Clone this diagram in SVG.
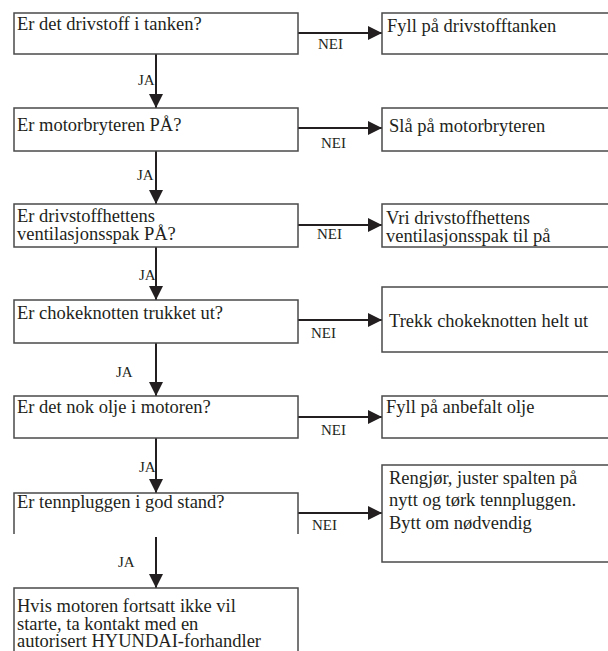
<svg xmlns="http://www.w3.org/2000/svg" width="608" height="651" viewBox="0 0 608 651">
<style>
.box{fill:#fff;stroke:#4a4a4a;stroke-width:1.5}
.t{font-family:"Liberation Serif","DejaVu Serif",serif;font-size:18.5px;fill:#231f20}
.lbl{font-family:"Liberation Serif","DejaVu Serif",serif;font-size:15px;fill:#231f20}
.ln{stroke:#231f20;stroke-width:2;fill:none}
</style>
<defs>
<marker id="ah" markerWidth="14" markerHeight="14" refX="14" refY="7" orient="auto" markerUnits="userSpaceOnUse">
<path d="M0,0 L14,7 L0,14 Z" fill="#231f20"/>
</marker>
</defs>
<rect width="608" height="651" fill="#fff"/>
<g id="connectors">
<line class="ln" x1="156" y1="54" x2="156" y2="108" marker-end="url(#ah)"/>
<line class="ln" x1="156" y1="151" x2="156" y2="204" marker-end="url(#ah)"/>
<line class="ln" x1="156" y1="247" x2="156" y2="300" marker-end="url(#ah)"/>
<line class="ln" x1="156" y1="343" x2="156" y2="396" marker-end="url(#ah)"/>
<line class="ln" x1="156" y1="438" x2="156" y2="493" marker-end="url(#ah)"/>
<line class="ln" x1="156" y1="537" x2="156" y2="588" marker-end="url(#ah)"/>
<line class="ln" x1="298" y1="33" x2="382" y2="33" marker-end="url(#ah)"/>
<line class="ln" x1="298" y1="128" x2="382" y2="128" marker-end="url(#ah)"/>
<line class="ln" x1="298" y1="225" x2="382" y2="225" marker-end="url(#ah)"/>
<line class="ln" x1="298" y1="320" x2="382" y2="320" marker-end="url(#ah)"/>
<line class="ln" x1="298" y1="417" x2="382" y2="417" marker-end="url(#ah)"/>
<line class="ln" x1="298" y1="513" x2="382" y2="513" marker-end="url(#ah)"/>
<text class="lbl" x="138" y="85">JA</text>
<text class="lbl" x="137" y="180">JA</text>
<text class="lbl" x="139" y="280">JA</text>
<text class="lbl" x="116" y="377">JA</text>
<text class="lbl" x="139" y="472">JA</text>
<text class="lbl" x="118" y="567">JA</text>
<text class="lbl" x="318" y="49">NEI</text>
<text class="lbl" x="321" y="148">NEI</text>
<text class="lbl" x="317" y="239">NEI</text>
<text class="lbl" x="311" y="338">NEI</text>
<text class="lbl" x="321" y="435">NEI</text>
<text class="lbl" x="312" y="530">NEI</text>
</g>
<g id="q1"><rect class="box" x="14" y="13" width="284" height="41"/><text class="t" x="17" y="30">Er det drivstoff i tanken?</text></g>
<g id="q2"><rect class="box" x="14" y="108" width="284" height="43"/><text class="t" x="17" y="131">Er motorbryteren PÅ?</text></g>
<g id="q3"><rect class="box" x="14" y="204" width="284" height="43"/><text class="t" x="17" y="222">Er drivstoffhettens</text><text class="t" x="17" y="240">ventilasjonsspak PÅ?</text></g>
<g id="q4"><rect class="box" x="14" y="300" width="284" height="43"/><text class="t" x="17" y="319">Er chokeknotten trukket ut?</text></g>
<g id="q5"><rect class="box" x="14" y="396" width="284" height="42"/><text class="t" x="17" y="413">Er det nok olje i motoren?</text></g>
<g id="q6"><path class="box" d="M14,534 L14,493 L298,493 L298,534"/><text class="t" x="17" y="508">Er tennpluggen i god stand?</text></g>
<g id="end"><rect class="box" x="14" y="588" width="284" height="70"/><text class="t" x="17" y="612">Hvis motoren fortsatt ikke vil</text><text class="t" x="17" y="630">starte, ta kontakt med en</text><text class="t" x="17" y="647">autorisert HYUNDAI-forhandler</text></g>
<g id="a1"><rect class="box" x="382" y="13" width="240" height="41"/><text class="t" x="387" y="32">Fyll på drivstofftanken</text></g>
<g id="a2"><rect class="box" x="382" y="108" width="240" height="43"/><text class="t" x="389" y="132">Slå på motorbryteren</text></g>
<g id="a3"><rect class="box" x="382" y="204" width="240" height="43"/><text class="t" x="386" y="224">Vri drivstoffhettens</text><text class="t" x="386" y="242">ventilasjonsspak til på</text></g>
<g id="a4"><rect class="box" x="382" y="287" width="240" height="65"/><text class="t" x="389" y="327">Trekk chokeknotten helt ut</text></g>
<g id="a5"><rect class="box" x="382" y="396" width="240" height="42"/><text class="t" x="386" y="413">Fyll på anbefalt olje</text></g>
<g id="a6"><rect class="box" x="382" y="465" width="240" height="97"/><text class="t" x="389" y="484">Rengjør, juster spalten på</text><text class="t" x="389" y="506">nytt og tørk tennpluggen.</text><text class="t" x="389" y="529">Bytt om nødvendig</text></g>
</svg>
